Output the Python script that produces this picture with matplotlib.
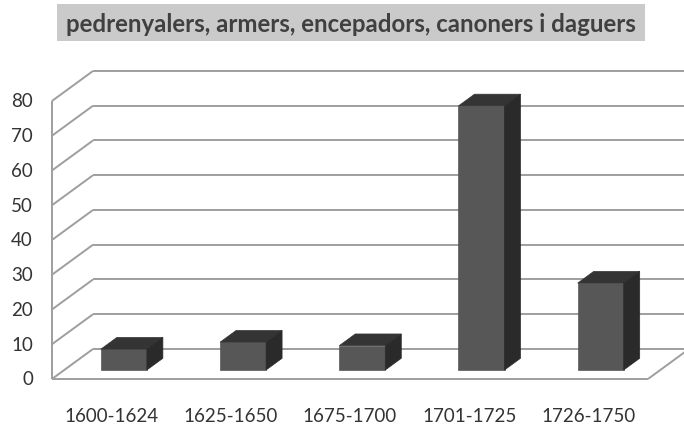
import matplotlib
matplotlib.use('Agg')
import matplotlib.pyplot as plt
from matplotlib.patches import Polygon, Rectangle

# dades
periods = ['1600-1624', '1625-1650', '1675-1700', '1701-1725', '1726-1750']
counts = [6, 8, 7, 76, 25]
yticks = [0, 10, 20, 30, 40, 50, 60, 70, 80]
title = 'pedrenyalers, armers, encepadors, canoners i daguers'

plt.rcParams['font.family'] = ['Lato', 'DejaVu Sans']

# perspectiva (en unitats de dades)
ddx = 0.344   # profunditat en x
ddy = 8.63    # profunditat en y
d0 = 0.30     # fondaria de la cara frontal de les barres
dbar = 0.39   # gruix de la barra
w = 0.386     # amplada de la barra

fig = plt.figure(figsize=(6.84, 4.27), dpi=100)
ax = fig.add_axes([0, 0, 1, 1])
ax.set_xlim(-0.436, 5.302)
ax.set_ylim(-13.53, 109.35)
ax.axis('off')

grid = dict(color='#9e9e9e', lw=1.4, solid_capstyle='butt', zorder=1)
n = len(periods)
for v in yticks:
    ax.plot([0, ddx], [v, v + ddy], **grid)
    ax.plot([ddx, n + ddx], [v + ddy, v + ddy], **grid)
    ax.text(-0.16, v, str(v), ha='right', va='center', fontsize=13.5, color='#333333')
ax.plot([0, 0], [0, yticks[-1]], **grid)
ax.plot([0, n], [0, 0], **grid)
ax.plot([n, n + ddx], [0, ddy], **grid)

# barres 3D
for i, (lab, c) in enumerate(zip(periods, counts)):
    x0 = i + 0.5 - w / 2 + d0 * ddx
    x1 = x0 + w
    y0 = d0 * ddy
    y1 = y0 + c
    bx = dbar * ddx
    by = dbar * ddy
    front = Polygon([(x0, y0), (x1, y0), (x1, y1), (x0, y1)], closed=True,
                    facecolor='#575757', edgecolor='#575757', lw=0.5, zorder=3)
    top = Polygon([(x0, y1), (x1, y1), (x1 + bx, y1 + by), (x0 + bx, y1 + by)], closed=True,
                  facecolor='#343434', edgecolor='#343434', lw=0.5, zorder=3)
    side = Polygon([(x1, y0), (x1 + bx, y0 + by), (x1 + bx, y1 + by), (x1, y1)], closed=True,
                   facecolor='#2a2a2a', edgecolor='#2a2a2a', lw=0.5, zorder=3)
    for p in (front, top, side):
        ax.add_patch(p)
    ax.text(i + 0.5, -10.65, lab, ha='center', va='center', fontsize=13.5, color='#333333')

# titol amb fons gris
fig.patches.append(Rectangle((57 / 684, 1 - 42 / 427), 588 / 684, 37 / 427,
                             transform=fig.transFigure, facecolor='#cacaca',
                             edgecolor='none', zorder=0))
fig.text(351 / 684, 1 - 24 / 427, title, ha='center', va='center',
         fontsize=17.3, fontweight='bold', color='#404040')

fig.savefig('out.png', dpi=100)
